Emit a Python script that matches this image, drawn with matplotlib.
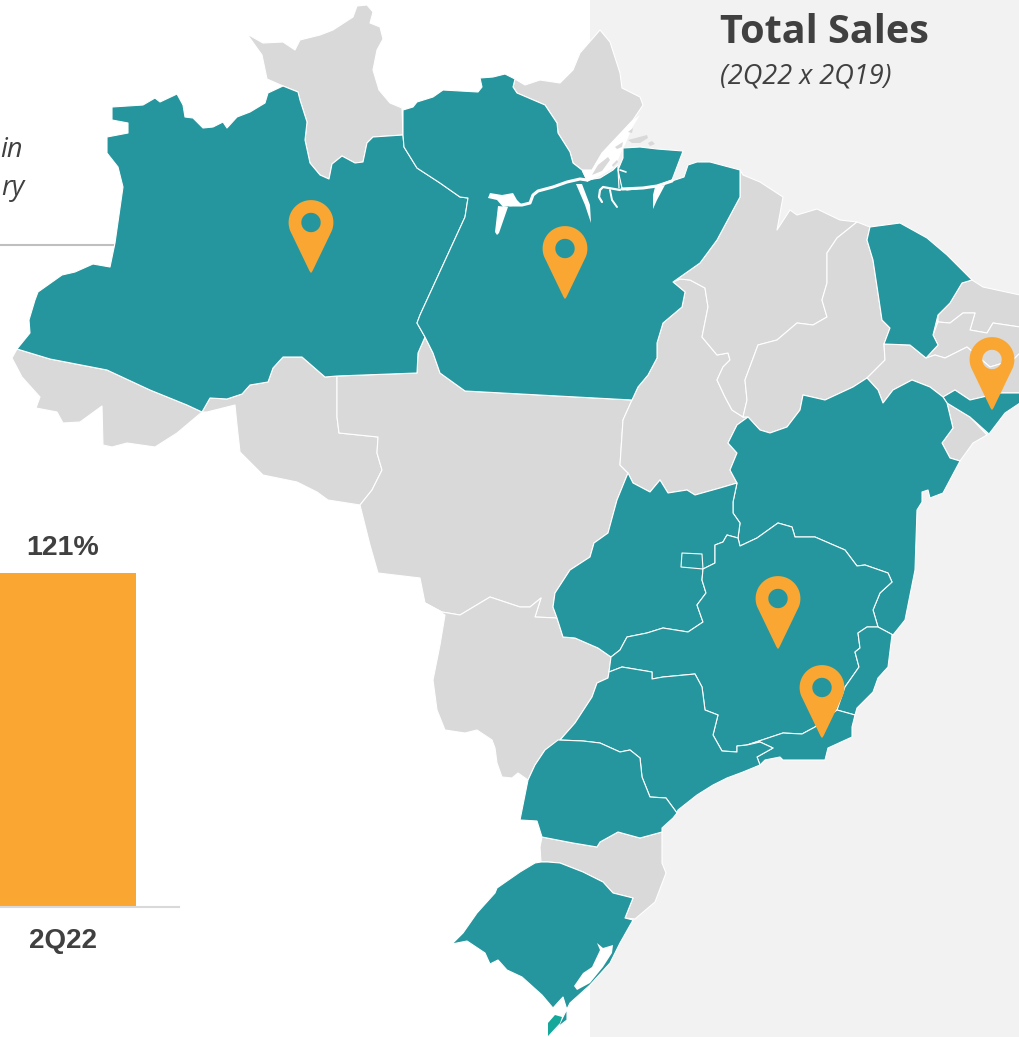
import matplotlib
matplotlib.use("Agg")
import matplotlib.pyplot as plt
from matplotlib.patches import Polygon, PathPatch, Rectangle
from matplotlib.path import Path
import numpy as np

TEAL = "#25969d"
GREY = "#d9d9d9"
ORANGE = "#faa633"
PANEL = "#f2f2f2"
DARK = "#404040"

# ---- data ----
bar_categories = ["2Q22"]
bar_values = [121]
bar_labels = ["121%"]
title = "Total Sales"
subtitle = "(2Q22 x 2Q19)"

roraima = [(247,34),(263,43),(283,42),(295,50),(300,40),(320,35),(333,30),(353,17),(357,6),(367,5),(373,12),(370,23),(380,27),(383,39),(377,50),(373,70),(379,90),(390,103),(402,108),(403,135),(373,137),(367,143),(363,162),(355,163),(342,156),(332,164),(329,179),(320,175),(310,163),(305,140),(307,122),(300,100),(298,92),(283,86),(267,79),(262,55)]
amazonas = [(112,107),(143,105),(155,98),(160,102),(177,94),(183,105),(185,117),(193,118),(203,128),(213,127),(223,122),(227,128),(237,117),(250,112),(265,103),(268,93),(283,86),(298,92),(300,100),(307,122),(305,140),(310,163),(320,175),(329,179),(332,164),(342,156),(355,163),(363,162),(367,143),(373,137),(403,135),(404,147),(417,168),(440,183),(460,197),(468,198),(465,217),(420,315),(417,323),(425,337),(418,353),(417,373),(337,376),(325,377),(302,357),(283,357),(273,368),(268,382),(250,385),(242,394),(227,399),(210,398),(202,412),(187,405),(150,390),(107,370),(50,359),(17,349),(30,333),(29,320),(35,300),(38,292),(62,275),(75,272),(93,264),(110,267),(115,243),(123,187),(118,167),(107,153),(107,137),(128,133),(128,123),(112,120)]
acre = [(17,349),(50,359),(107,370),(150,390),(187,405),(202,412),(177,433),(155,447),(127,443),(112,447),(103,445),(102,406),(80,422),(63,423),(57,412),(36,408),(40,397),(22,377),(12,358)]
rondonia = [(202,412),(210,398),(227,399),(242,394),(250,385),(268,382),(273,368),(283,357),(302,357),(325,377),(337,376),(337,417),(339,433),(378,437),(377,453),(382,470),(372,490),(360,505),(328,500),(317,492),(297,482),(263,475),(240,452),(237,425),(235,405),(207,412)]
mato_grosso = [(337,376),(417,373),(418,353),(425,337),(433,353),(440,373),(465,391),(632,400),(623,420),(620,465),(628,473),(617,500),(608,533),(594,543),(590,557),(570,570),(555,593),(553,607),(557,618),(535,617),(541,598),(530,607),(520,607),(490,597),(460,615),(442,612),(425,603),(420,578),(378,573),(370,545),(360,505),(372,490),(382,470),(377,453),(378,437),(339,433),(337,417)]
ms = [(425,603),(442,612),(460,615),(490,597),(520,607),(530,607),(541,598),(535,617),(557,618),(563,637),(575,638),(598,648),(611,657),(609,672),(608,678),(597,683),(592,697),(575,723),(560,740),(545,750),(535,765),(528,780),(518,773),(512,778),(502,777),(497,763),(495,748),(492,740),(477,730),(465,733),(445,730),(437,710),(433,680),(440,645),(445,615)]
para = [(403,110),(413,107),(417,102),(433,97),(443,90),(478,92),(482,87),(480,78),(493,77),(505,74),(515,79),(513,87),(517,93),(545,105),(557,123),(558,133),(570,152),(573,163),(582,170),(587,180),(600,178),(613,170),(618,165),(622,188),(643,188),(657,186),(672,181),(684,177),(688,165),(697,162),(710,162),(740,170),(740,197),(717,240),(700,263),(673,282),(685,292),(682,307),(663,323),(657,343),(657,358),(648,375),(638,387),(632,400),(465,391),(440,373),(433,353),(425,337),(417,323),(420,315),(465,217),(468,198),(460,197),(440,183),(417,168),(404,147),(403,135)]
marajo = [(623,148),(640,147),(657,149),(683,151),(672,180),(657,186),(643,188),(627,190),(622,188),(618,170),(623,158)]
amapa = [(513,87),(515,79),(525,85),(540,80),(560,83),(573,70),(580,53),(600,30),(610,42),(620,73),(622,88),(640,97),(643,105),(633,120),(617,137),(602,153),(592,170),(582,170),(573,163),(570,152),(558,133),(557,123),(545,105),(517,93)]
tocantins = [(632,400),(638,387),(648,375),(657,358),(657,343),(663,323),(682,307),(685,292),(673,282),(680,279),(690,280),(705,288),(708,307),(702,337),(717,355),(728,353),(730,360),(723,367),(717,380),(725,397),(732,410),(743,417),(748,417),(737,425),(728,443),(737,453),(730,470),(737,483),(720,488),(695,495),(687,490),(668,493),(660,480),(650,492),(633,483),(628,473),(620,465),(623,420)]
maranhao = [(740,170),(743,175),(760,182),(783,197),(777,230),(790,210),(797,215),(817,209),(840,220),(857,222),(837,238),(827,253),(827,283),(822,300),(827,317),(813,325),(797,323),(777,340),(758,345),(745,380),(747,400),(743,417),(732,410),(725,397),(717,380),(723,367),(730,360),(728,353),(717,355),(702,337),(708,307),(705,288),(690,280),(680,279),(673,282),(700,263),(717,240),(740,197)]
piaui = [(857,222),(870,227),(867,240),(873,260),(878,293),(882,320),(890,328),(884,344),(885,360),(867,378),(853,387),(825,400),(803,395),(800,410),(787,427),(770,433),(760,430),(748,417),(743,417),(747,400),(745,380),(758,345),(777,340),(797,323),(813,325),(827,317),(822,300),(827,283),(827,253),(837,238)]
ceara = [(870,227),(900,223),(927,238),(947,255),(972,280),(962,283),(950,303),(938,315),(933,335),(938,345),(926,358),(910,345),(884,344),(890,328),(882,320),(878,293),(873,260),(867,240)]
rn = [(972,280),(983,287),(1020,295),(1020,327),(993,323),(987,333),(970,330),(975,313),(963,313),(950,323),(938,322),(938,315),(950,303),(962,283)]
paraiba = [(938,322),(950,323),(963,313),(975,313),(970,330),(987,333),(993,323),(1020,327),(1020,353),(1013,360),(990,367),(967,347),(945,358),(935,355),(926,358),(938,345),(933,335)]
pernambuco = [(884,344),(910,345),(926,358),(935,355),(945,358),(967,347),(990,367),(1013,360),(1020,353),(1020,393),(1000,393),(970,400),(955,390),(943,397),(930,387),(912,380),(893,390),(883,403),(878,390),(867,378),(885,360)]
alagoas = [(943,397),(955,390),(970,400),(1000,393),(1020,393),(1020,403),(1005,413),(989,434),(970,417),(947,403)]
sergipe = [(947,403),(970,417),(987,435),(973,443),(960,461),(950,458),(942,443),(953,428)]
bahia = [(748,417),(760,430),(770,433),(787,427),(800,410),(803,395),(825,400),(853,387),(867,378),(878,390),(883,403),(893,390),(912,380),(930,387),(943,397),(947,403),(953,428),(942,443),(950,458),(960,461),(943,493),(930,498),(928,490),(922,492),(922,502),(917,510),(915,570),(905,620),(893,635),(878,627),(873,610),(880,593),(892,582),(888,573),(865,565),(857,566),(845,550),(815,537),(795,537),(792,527),(778,523),(757,538),(740,546),(738,538),(740,523),(733,513),(733,502),(737,483),(730,470),(737,453),(728,443),(737,425)]
goias = [(628,473),(633,483),(650,492),(660,480),(668,493),(687,490),(695,495),(720,488),(737,483),(733,502),(733,513),(740,523),(738,538),(727,535),(723,542),(715,545),(715,563),(703,569),(702,580),(706,593),(697,605),(703,622),(688,632),(663,628),(647,633),(627,637),(620,650),(611,657),(598,648),(575,638),(563,637),(557,618),(553,607),(555,593),(570,570),(590,557),(594,543),(608,533),(617,500)]
distrito_federal = [(682,553),(702,554),(703,569),(681,567)]
minas = [(738,538),(740,546),(757,538),(778,523),(792,527),(795,537),(815,537),(845,550),(857,566),(865,565),(888,573),(892,582),(880,593),(873,610),(878,627),(867,627),(858,633),(860,648),(855,652),(859,667),(845,687),(837,710),(815,727),(802,734),(783,733),(747,745),(737,746),(737,752),(722,751),(713,735),(718,715),(705,710),(702,687),(695,674),(663,677),(652,679),(652,672),(622,667),(609,672),(611,657),(620,650),(627,637),(647,633),(663,628),(688,632),(703,622),(697,605),(706,593),(702,580),(703,569),(715,563),(715,545),(723,542),(727,535)]
espirito_santo = [(893,635),(878,627),(867,627),(858,633),(860,648),(855,652),(859,667),(845,687),(837,710),(855,715),(857,708),(873,692),(878,678),(888,667),(892,635)]
rio = [(837,710),(855,715),(852,727),(852,737),(828,748),(825,760),(783,760),(780,757),(765,760),(760,765),(757,757),(773,748),(760,742),(747,745),(783,733),(802,734),(815,727)]
sao_paulo = [(609,672),(622,667),(652,672),(652,679),(663,677),(695,674),(702,687),(705,710),(718,715),(713,735),(722,751),(737,752),(737,746),(747,745),(760,742),(773,748),(757,757),(760,765),(743,772),(727,778),(713,785),(697,795),(678,810),(677,813),(666,798),(650,797),(642,777),(640,758),(630,750),(620,752),(600,743),(583,741),(560,740),(575,723),(592,697),(597,683),(608,678)]
parana = [(558,740),(583,741),(600,743),(620,752),(630,750),(640,758),(642,777),(650,797),(666,798),(677,813),(673,818),(662,828),(662,832),(640,838),(618,832),(600,842),(597,847),(573,843),(542,837),(537,821),(520,820),(528,780),(535,765),(545,750)]
santa_catarina = [(542,837),(573,843),(597,847),(600,842),(618,832),(640,838),(662,832),(662,863),(666,873),(655,902),(635,919),(625,918),(633,898),(613,893),(603,882),(583,872),(560,863),(548,862),(541,862),(540,847)]
rio_grande_sul = [(541,862),(535,863),(520,872),(497,888),(495,893),(477,913),(463,933),(452,944),(467,941),(485,953),(490,964),(498,960),(507,970),(522,977),(542,995),(553,1008),(563,997),(567,1010),(567,1020),(558,1027),(570,1003),(590,985),(610,963),(620,943),(633,920),(625,918),(633,898),(613,893),(603,882),(583,872),(560,863),(548,862)]
lagoa_patos = [(597,943),(603,948),(613,945),(612,953),(603,967),(590,983),(577,990),(574,986),(583,973),(592,967),(600,950)]
lagoa_mirim = [(563,997),(567,1010),(562,1017),(553,1008)]
tip_south = [(548,1023),(555,1015),(562,1017),(560,1023),(548,1036)]

grey_states = [roraima, acre, rondonia, mato_grosso, ms, amapa, tocantins, maranhao, piaui, rn, paraiba, pernambuco, sergipe, santa_catarina]
teal_states = [amazonas, para, marajo, ceara, alagoas, bahia, goias, distrito_federal, minas, espirito_santo, rio, sao_paulo, parana, rio_grande_sul]

rivers = [
    ([(587,180),(580,179),(567,182),(553,187),(538,191),(533,195),(530,203),(522,205),(510,205)], 2.2),
    ([(600,190),(599,197),(602,202)], 1.6),
    ([(600,190),(603,187),(620,190)], 1.6),
    ([(610,190),(612,200),(617,207)], 1.4),
    ([(622,189),(643,188),(657,186),(672,181)], 2.2),
    ([(618,167),(619,188)], 0.9),
    ([(620,170),(626,172)], 1.2),
]
lake = [(488,198),(490,193),(502,195),(513,193),(517,200),(522,205),(503,207),(497,200)]
river_tails = [[(498,206),(508,207),(499,233),(497,235),(495,232)],
               [(576,184),(582,184),(590,205),(591,223),(585,205)],
               [(655,187),(665,185),(657,200),(653,209),(653,195)]]
delta = [(582,171),(592,170),(602,153),(617,137),(633,120),(640,115),(632,128),(625,145),(623,148),(618,160),(613,168),(600,176),(587,182)]
delta_islands = [[(592,175),(598,165),(608,157),(610,160),(602,171)], [(612,165),(617,160),(618,162),(613,167)],
                 [(615,147),(623,142),(622,147),(617,149)], [(628,140),(647,135),(648,138),(640,143),(632,143)],
                 [(648,143),(652,141),(655,144),(650,146)], [(628,132),(633,128),(632,133)]]

pin_tips = [(311,273),(565,299),(992,410),(778,649),(822,738)]

# ---- figure ----
W, H = 1020, 1037
fig = plt.figure(figsize=(W/100, H/100), dpi=100, facecolor="white")
ax = fig.add_axes([0, 0, 1, 1])
ax.set_xlim(0, W)
ax.set_ylim(H, 0)
ax.axis("off")

ax.add_patch(Rectangle((590, 0), 430, H, fc=PANEL, ec="none", zorder=0))
ax.plot([0, 114], [245, 245], color="#bfbfbf", lw=1.5, zorder=1, solid_capstyle="butt")

for s in grey_states:
    ax.add_patch(Polygon(s, closed=True, fc=GREY, ec="white", lw=0.8, joinstyle="round", zorder=2))
for s in teal_states:
    ax.add_patch(Polygon(s, closed=True, fc=TEAL, ec="white", lw=0.8, joinstyle="round", zorder=3))

ax.add_patch(Polygon(delta, closed=True, fc="white", ec="none", zorder=4))
for s in delta_islands:
    ax.add_patch(Polygon(s, closed=True, fc=GREY, ec="none", zorder=5))
for pts, lw in rivers:
    x, y = zip(*pts)
    ax.plot(x, y, color="white", lw=lw, zorder=4, solid_capstyle="round", solid_joinstyle="round")
for s in river_tails:
    ax.add_patch(Polygon(s, closed=True, fc="white", ec="none", zorder=4))
ax.add_patch(Polygon(lake, closed=True, fc="white", ec="none", zorder=4))
ax.add_patch(Polygon(lagoa_patos, closed=True, fc="white", ec="none", zorder=4))
ax.add_patch(Polygon(lagoa_mirim, closed=True, fc="white", ec="none", zorder=4))
ax.add_patch(Polygon(tip_south, closed=True, fc="#14a89a", ec="none", zorder=4))


def pin_path(tx, ty):
    r, hole, dy = 22.4, 9.7, 50.5
    cx, cy = tx, ty - dy
    a = np.linspace(np.radians(158), np.radians(382), 60)
    head = np.c_[cx + r*np.cos(a), cy + r*np.sin(a)]
    outer = np.vstack([head, [[tx+1.5, ty-2], [tx, ty], [tx-1.5, ty-2]], head[:1]])
    b = np.linspace(2*np.pi, 0, 40)
    inner = np.c_[cx + hole*np.cos(b), cy + hole*np.sin(b)]
    verts = np.vstack([outer, inner])
    codes = ([Path.MOVETO] + [Path.LINETO]*(len(outer)-2) + [Path.CLOSEPOLY]
             + [Path.MOVETO] + [Path.LINETO]*(len(inner)-2) + [Path.CLOSEPOLY])
    return Path(verts, codes)


for tx, ty in pin_tips:
    ax.add_patch(PathPatch(pin_path(tx, ty), fc=ORANGE, ec="none", zorder=6))

ax.text(720, 43, title, family="Open Sans", weight="bold", fontsize=28.5, color=DARK, ha="left", va="baseline", zorder=7)
ax.text(720, 84, subtitle, family="Open Sans", style="italic", fontsize=19.5, color=DARK, ha="left", va="baseline", zorder=7)
ax.text(23, 157, "in", family="Open Sans", style="italic", fontsize=19.5, color=DARK, ha="right", va="baseline")
ax.text(24, 195, "ry", family="Open Sans", style="italic", fontsize=19.5, color=DARK, ha="right", va="baseline")

# bar panel
bx = fig.add_axes([0, (H-907)/H, 179/W, 407/H], facecolor="none")
bx.set_xlim(-63, 116)
bx.set_ylim(0, 121*407/334)
bx.bar([0], bar_values, width=146, color=ORANGE, zorder=2)
bx.spines[["top", "left", "right"]].set_visible(False)
bx.spines["bottom"].set_color(GREY)
bx.spines["bottom"].set_linewidth(1.5)
bx.set_yticks([])
bx.set_xticks([0], bar_categories, family="Liberation Sans", weight="bold", fontsize=20, color=DARK)
bx.tick_params(axis="x", length=0, pad=15)
for i, v in enumerate(bar_values):
    bx.annotate(bar_labels[i], (i, v), xytext=(0, 8.6), textcoords="offset points", ha="center", va="bottom",
                family="Liberation Sans", weight="bold", fontsize=20.5, color=DARK, annotation_clip=False)

fig.savefig("out.png", dpi=100)
